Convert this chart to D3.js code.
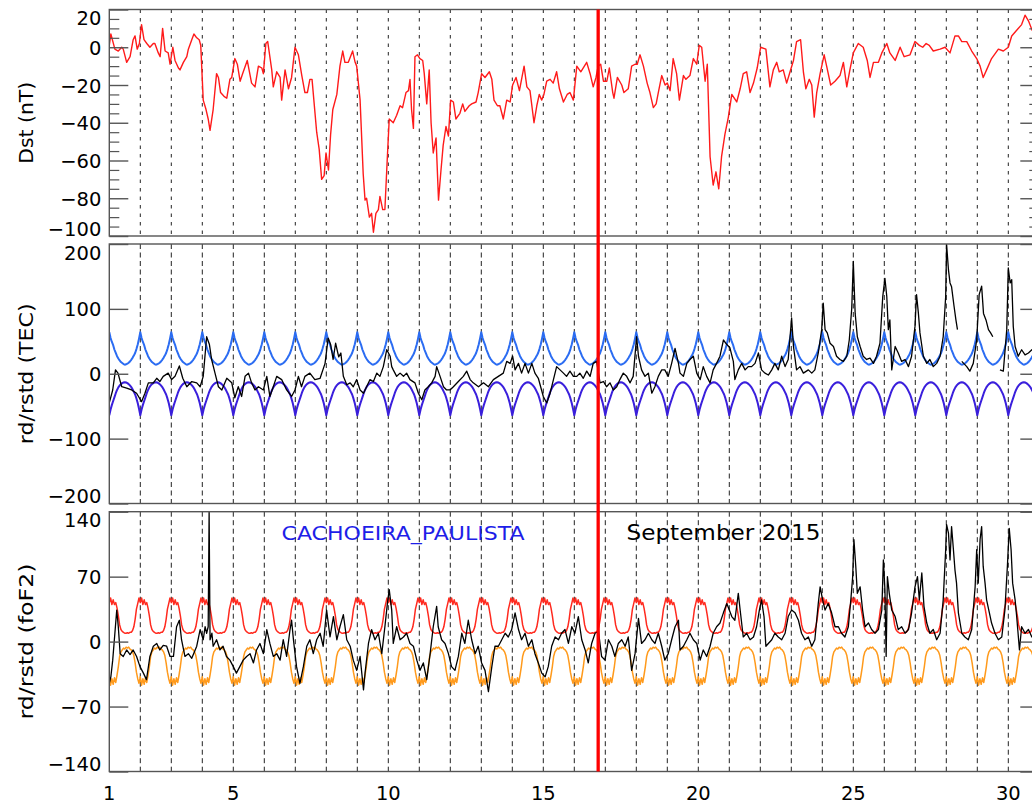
<!DOCTYPE html>
<html><head><meta charset="utf-8">
<script src="https://cdn.jsdelivr.net/npm/d3@7"></script>
<style>
html,body{margin:0;padding:0;background:#fff;overflow:hidden}
svg{display:block}
text{font-family:"DejaVu Sans","Liberation Sans",sans-serif;fill:#000}
</style></head><body>
<svg id="chart" width="1032" height="805"></svg>
<script>
// ---- axis labels and ticks ----
const dayLabels = [1, 5, 10, 15, 20, 25, 30];
const dayGrid = [2,3,4,5,6,7,8,9,10,11,12,13,14,15,16,17,18,19,20,21,22,23,24,25,26,27,28,29,30];
const dstTicks = [-100, -80, -60, -40, -20, 0, 20];
const tecTicks = [-200, -100, 0, 100, 200];
const fof2Ticks = [-140, -70, 0, 70, 140];
const stationName = "CACHOEIRA_PAULISTA";
const monthLabel = "September 2015";
const eventDay = 16.77;

// ---- Dst index (nT), [day of month, value] ----
const dstSeries = [
[1.00,1],[1.05,7],[1.18,-1],[1.29,-2],[1.40,0],[1.45,-1],[1.56,-8],[1.67,-5],[1.77,4],[1.83,6],[1.90,-1],[1.97,2],[2.04,12],[2.12,4],[2.21,2],[2.31,0],[2.42,2],[2.47,2],[2.58,-3],[2.64,-5],[2.72,10],[2.80,-2],[2.90,-3],[2.96,-9],[3.05,0],[3.12,-7],[3.23,-11],[3.28,-12],[3.39,-8],[3.50,-5],[3.55,-1],[3.66,4],[3.73,7],[3.82,5],[3.90,4],[3.95,1],[4.03,-28],[4.12,-33],[4.19,-38],[4.25,-44],[4.35,-33],[4.46,-14],[4.52,-16],[4.59,-24],[4.70,-26],[4.79,-27],[4.89,-17],[4.95,-16],[5.05,-6],[5.13,-9],[5.22,-18],[5.30,-14],[5.45,-7],[5.59,-19],[5.70,-21],[5.81,-10],[5.92,-11],[5.97,-14],[6.05,2],[6.11,3],[6.24,-12],[6.29,-21],[6.40,-13],[6.51,-16],[6.56,-28],[6.67,-12],[6.78,-22],[6.88,-16],[6.99,0],[7.10,-4],[7.21,-15],[7.31,-24],[7.39,-24],[7.47,-17],[7.54,-17],[7.69,-45],[7.77,-54],[7.85,-70],[7.93,-68],[7.99,-56],[8.07,-65],[8.14,-46],[8.21,-33],[8.34,-25],[8.44,-10],[8.53,-2],[8.60,-8],[8.71,-8],[8.85,-2],[8.93,-8],[8.98,-10],[9.09,-28],[9.19,-67],[9.25,-81],[9.30,-80],[9.39,-90],[9.46,-88],[9.52,-98],[9.60,-88],[9.68,-86],[9.73,-79],[9.82,-86],[9.89,-86],[9.97,-58],[10.03,-38],[10.16,-40],[10.27,-36],[10.38,-31],[10.46,-32],[10.57,-24],[10.65,-23],[10.70,-17],[10.75,-33],[10.81,-43],[10.86,-5],[10.94,-4],[11.02,-6],[11.11,-7],[11.16,-14],[11.24,-30],[11.32,-12],[11.38,-40],[11.45,-56],[11.54,-48],[11.62,-81],[11.70,-65],[11.77,-52],[11.86,-42],[11.94,-47],[12.01,-28],[12.10,-29],[12.18,-38],[12.31,-35],[12.40,-30],[12.47,-34],[12.61,-31],[12.69,-30],[12.83,-29],[12.90,-24],[13.01,-14],[13.12,-16],[13.26,-13],[13.34,-17],[13.41,-28],[13.52,-31],[13.60,-31],[13.71,-38],[13.82,-28],[13.93,-29],[14.01,-20],[14.12,-16],[14.23,-23],[14.38,-10],[14.47,-21],[14.57,-23],[14.70,-40],[14.79,-31],[14.87,-25],[14.95,-28],[15.02,-25],[15.11,-18],[15.22,-17],[15.32,-19],[15.43,-13],[15.52,-22],[15.65,-29],[15.77,-25],[15.86,-24],[15.97,-28],[16.08,-10],[16.21,-13],[16.40,-8],[16.51,-14],[16.61,-21],[16.70,-16],[16.77,-10],[16.85,-9],[16.94,-18],[17.05,-18],[17.13,-11],[17.24,-24],[17.28,-27],[17.39,-16],[17.53,-20],[17.60,-24],[17.74,-22],[17.85,-10],[17.96,-9],[18.03,-9],[18.12,-4],[18.23,-10],[18.35,-19],[18.44,-24],[18.55,-32],[18.64,-30],[18.71,-24],[18.82,-15],[18.93,-20],[19.00,-19],[19.09,-23],[19.19,-6],[19.30,-14],[19.39,-28],[19.52,-15],[19.60,-17],[19.73,-15],[19.84,-6],[19.95,-9],[20.03,1],[20.11,0],[20.22,-18],[20.29,-9],[20.38,-58],[20.48,-73],[20.57,-66],[20.66,-75],[20.75,-58],[20.86,-46],[20.97,-37],[21.08,-25],[21.24,-29],[21.35,-22],[21.45,-14],[21.56,-13],[21.67,-24],[21.78,-19],[21.90,-11],[22.01,0],[22.18,-1],[22.31,-21],[22.42,-12],[22.53,-8],[22.61,-13],[22.74,-12],[22.85,-19],[22.96,-13],[23.07,-7],[23.17,3],[23.30,4],[23.39,-13],[23.47,-22],[23.58,-17],[23.66,-20],[23.74,-37],[23.82,-24],[23.93,-14],[24.06,-4],[24.14,-10],[24.27,-20],[24.41,-18],[24.57,-15],[24.68,-8],[24.79,-21],[24.89,-12],[25.00,-3],[25.16,2],[25.32,0],[25.45,-7],[25.54,-16],[25.65,-8],[25.81,-8],[25.92,-3],[26.08,2],[26.18,-3],[26.35,-7],[26.51,0],[26.64,-5],[26.83,-4],[26.99,3],[27.13,1],[27.24,0],[27.35,2],[27.45,1],[27.58,-2],[27.80,-1],[27.96,0],[28.12,-3],[28.28,6],[28.39,6],[28.50,3],[28.66,3],[28.82,-2],[28.98,-6],[29.09,-10],[29.19,-16],[29.30,-12],[29.46,-6],[29.68,-1],[29.84,-2],[30.00,0],[30.11,6],[30.27,9],[30.43,12],[30.54,17],[30.65,14],[30.77,9],[30.90,6]
];

// ---- TEC relative deviation (%), [day, value]; null marks a data gap ----
const tecDeviation = [
[1.00,-45],[1.11,-25],[1.20,6],[1.28,1],[1.40,-20],[1.56,-22],[1.72,-25],[1.88,-30],[2.04,-43],[2.15,-30],[2.26,-14],[2.42,-14],[2.53,-7],[2.63,-12],[2.74,-4],[2.90,1],[3.01,-9],[3.12,-4],[3.26,12],[3.37,-7],[3.50,-20],[3.66,-12],[3.82,-14],[3.93,-20],[4.03,-4],[4.14,57],[4.23,45],[4.30,22],[4.41,1],[4.52,-20],[4.63,-25],[4.79,-7],[4.95,-14],[5.05,-37],[5.16,-20],[5.27,-35],[5.38,-4],[5.49,1],[5.59,-14],[5.70,-25],[5.81,-20],[5.97,-25],[6.08,-4],[6.18,-35],[6.29,-20],[6.40,-4],[6.56,-9],[6.72,-25],[6.88,-35],[6.99,-25],[7.10,-4],[7.20,-20],[7.31,-4],[7.47,1],[7.63,-9],[7.80,-7],[7.96,16],[8.06,55],[8.14,45],[8.22,22],[8.30,47],[8.40,26],[8.47,32],[8.55,-4],[8.66,-17],[8.77,-14],[8.87,-20],[8.98,-9],[9.09,-25],[9.20,-30],[9.30,-20],[9.41,-9],[9.52,-12],[9.63,1],[9.73,-4],[9.84,11],[9.95,37],[10.06,27],[10.11,11],[10.16,6],[10.27,-4],[10.38,1],[10.49,-4],[10.59,1],[10.70,-9],[10.86,-14],[10.97,-30],[11.08,-40],[11.18,-25],[11.29,-20],[11.40,-14],[11.51,-4],[11.56,11],[11.67,-4],[11.78,-20],[11.88,-25],[11.99,-25],[12.10,-20],[12.26,-12],[12.42,-4],[12.53,4],[12.64,-9],[12.74,-14],[12.91,-20],[13.07,-14],[13.23,-20],[13.39,-9],[13.55,-4],[13.71,1],[13.82,19],[13.93,16],[14.01,27],[14.09,6],[14.20,16],[14.30,1],[14.41,16],[14.52,1],[14.63,16],[14.73,1],[14.84,-7],[15.00,-35],[15.11,-45],[15.22,-30],[15.43,11],[15.54,6],[15.65,1],[15.75,-4],[15.86,4],[15.97,-4],[16.08,-4],[16.18,1],[16.29,-7],[16.40,4],[16.51,-4],[16.61,16],[16.72,19],[16.83,-14],[16.94,-12],[17.04,-20],[17.15,-14],[17.26,-25],[17.37,-20],[17.47,-9],[17.58,1],[17.69,-4],[17.80,-14],[17.90,-4],[18.01,57],[18.07,27],[18.17,6],[18.28,-4],[18.39,1],[18.50,-30],[18.60,-20],[18.71,-4],[18.82,6],[18.92,6],[19.03,-4],[19.14,16],[19.25,39],[19.36,16],[19.41,1],[19.52,-4],[19.63,16],[19.73,22],[19.84,27],[19.95,1],[20.06,-9],[20.16,11],[20.27,-4],[20.38,-14],[20.48,6],[20.59,16],[20.70,27],[20.81,52],[20.92,45],[21.02,40],[21.13,19],[21.18,-9],[21.29,6],[21.40,16],[21.51,6],[21.61,11],[21.72,11],[21.83,16],[21.94,32],[22.04,6],[22.15,1],[22.26,-2],[22.37,6],[22.47,16],[22.58,6],[22.69,27],[22.80,11],[22.90,22],[23.01,86],[23.07,42],[23.17,6],[23.28,11],[23.39,1],[23.55,6],[23.66,1],[23.76,6],[23.87,32],[23.98,68],[24.03,109],[24.09,68],[24.16,63],[24.25,47],[24.36,42],[24.46,27],[24.57,22],[24.68,19],[24.79,27],[24.87,52],[24.95,101],[25.00,173],[25.06,93],[25.13,57],[25.22,42],[25.32,27],[25.43,22],[25.54,24],[25.65,16],[25.75,27],[25.86,47],[25.95,119],[26.02,147],[26.08,119],[26.13,68],[26.18,83],[26.24,6],[26.35,42],[26.45,32],[26.56,19],[26.67,22],[26.78,11],[26.88,27],[26.99,73],[27.04,122],[27.10,93],[27.15,63],[27.26,27],[27.37,16],[27.47,22],[27.58,11],[27.69,16],[27.80,27],[27.90,57],[27.98,119],[28.01,199],[28.07,160],[28.12,140],[28.17,134],[28.25,104],[28.31,83],[28.36,68],null,[28.50,19],[28.66,11],[28.76,4],[28.87,16],[28.98,52],[29.06,122],[29.14,135],[29.20,93],[29.28,83],[29.36,68],[29.43,63],[29.50,57],null,[29.73,6],[29.84,4],[29.95,68],[30.00,163],[30.06,140],[30.11,145],[30.16,73],[30.22,42],[30.32,27],[30.43,37],[30.54,29],[30.65,32],[30.76,37],[30.90,30]
];

// ---- foF2 relative deviation (%), [day, value] ----
const fof2Deviation = [
[1.00,-45],[1.05,-38],[1.11,-20],[1.18,9],[1.24,34],[1.29,16],[1.35,-13],[1.45,-16],[1.56,-9],[1.67,-14],[1.77,-9],[1.88,-16],[1.99,-27],[2.10,-34],[2.20,-41],[2.31,-16],[2.42,-5],[2.53,-2],[2.63,-9],[2.74,-4],[2.85,-5],[2.96,-16],[3.07,-16],[3.17,16],[3.26,23],[3.33,2],[3.44,-16],[3.55,-13],[3.66,-18],[3.82,-5],[3.93,13],[4.03,2],[4.09,16],[4.14,9],[4.19,16],[4.22,140],[4.25,2],[4.31,9],[4.35,-5],[4.46,2],[4.57,-9],[4.67,-5],[4.78,-16],[4.89,-20],[5.00,-27],[5.10,-34],[5.21,-27],[5.32,-20],[5.43,-16],[5.54,-13],[5.65,-23],[5.75,-9],[5.86,-2],[5.97,-13],[6.08,13],[6.18,-2],[6.29,-16],[6.40,-13],[6.51,-20],[6.61,2],[6.72,-16],[6.83,13],[6.88,23],[6.94,2],[7.04,-27],[7.15,-45],[7.26,-27],[7.37,-5],[7.47,2],[7.58,-13],[7.69,2],[7.80,9],[7.90,-5],[8.01,34],[8.12,5],[8.23,27],[8.34,2],[8.44,16],[8.55,29],[8.66,2],[8.77,-5],[8.87,-20],[8.98,-31],[9.09,-16],[9.20,-52],[9.25,-34],[9.36,-2],[9.46,13],[9.57,2],[9.68,9],[9.79,-13],[9.89,16],[9.97,41],[10.03,56],[10.11,34],[10.16,-2],[10.27,16],[10.38,2],[10.49,5],[10.59,9],[10.70,-2],[10.81,-5],[10.92,-20],[11.02,-31],[11.13,-23],[11.24,-41],[11.35,-13],[11.45,16],[11.56,38],[11.61,16],[11.72,2],[11.83,-2],[11.94,-13],[12.04,-27],[12.15,-31],[12.26,-16],[12.37,9],[12.47,-2],[12.58,23],[12.69,2],[12.80,-13],[12.90,-5],[13.01,-23],[13.12,-31],[13.23,-54],[13.34,-27],[13.44,-5],[13.55,-5],[13.66,2],[13.77,9],[13.87,5],[13.98,13],[14.09,31],[14.20,13],[14.30,2],[14.41,9],[14.52,-5],[14.63,2],[14.73,-13],[14.84,-23],[14.95,-34],[15.06,-38],[15.16,-27],[15.27,-5],[15.38,5],[15.49,2],[15.59,9],[15.70,13],[15.81,-2],[15.92,16],[16.02,9],[16.13,27],[16.24,2],[16.35,-9],[16.45,-23],[16.56,-2],[16.67,9],[16.78,11],[16.88,-16],[16.99,-20],[17.10,2],[17.21,-5],[17.31,-16],[17.42,-2],[17.53,2],[17.64,-5],[17.74,5],[17.85,-31],[17.96,-13],[18.07,25],[18.17,-2],[18.28,2],[18.39,9],[18.50,2],[18.60,-2],[18.71,9],[18.82,-5],[18.92,-20],[19.03,-13],[19.14,2],[19.25,16],[19.36,23],[19.41,-9],[19.52,-5],[19.63,2],[19.73,9],[19.84,2],[19.95,-2],[20.06,-20],[20.16,-9],[20.27,-16],[20.38,-5],[20.48,9],[20.59,16],[20.70,20],[20.81,31],[20.92,41],[21.00,34],[21.08,27],[21.18,23],[21.29,52],[21.35,34],[21.45,5],[21.56,9],[21.67,2],[21.78,5],[21.88,16],[21.97,34],[22.04,45],[22.12,27],[22.18,-5],[22.26,-2],[22.37,2],[22.47,9],[22.58,5],[22.69,2],[22.80,9],[22.90,27],[23.01,34],[23.12,31],[23.23,23],[23.33,9],[23.44,2],[23.55,5],[23.66,-5],[23.76,2],[23.87,41],[23.93,59],[24.01,45],[24.09,34],[24.19,41],[24.30,31],[24.41,16],[24.52,16],[24.62,9],[24.73,5],[24.84,16],[24.92,45],[24.98,70],[25.02,110],[25.08,81],[25.13,52],[25.22,59],[25.30,34],[25.38,16],[25.49,20],[25.59,13],[25.70,9],[25.81,13],[25.92,34],[25.97,88],[26.02,56],[26.06,-16],[26.10,70],[26.16,52],[26.24,34],[26.35,27],[26.45,13],[26.56,16],[26.67,9],[26.78,13],[26.88,31],[26.99,59],[27.07,70],[27.13,45],[27.21,74],[27.28,38],[27.37,20],[27.47,9],[27.58,13],[27.69,2],[27.80,9],[27.90,45],[27.98,99],[28.01,126],[28.07,117],[28.12,88],[28.17,124],[28.23,99],[28.28,77],[28.33,63],[28.39,31],[28.50,9],[28.60,5],[28.71,2],[28.82,13],[28.93,59],[28.98,99],[29.03,63],[29.09,110],[29.14,124],[29.19,81],[29.25,63],[29.30,45],[29.39,31],[29.46,20],[29.57,9],[29.68,2],[29.79,5],[29.89,34],[29.97,81],[30.03,122],[30.09,99],[30.14,63],[30.22,45],[30.27,27],[30.36,-9],[30.43,16],[30.54,9],[30.65,13],[30.76,5],[30.90,10]
];

// ---- quiet-time bounds: hourly daily profile (hour 0 .. 23), repeated each day ----
const tecUpperHourly = [64,55,49,44,37,32,27,23.5,20.5,18,16.5,15,14,14.5,15.5,17,19,21.5,24.5,28,32,38,45,54];
const tecLowerHourly = [-64,-55,-48,-42,-36,-30,-25,-21,-18,-16,-14.5,-13.5,-13,-13.5,-14.5,-16,-18,-20.5,-24,-28,-32,-38,-45,-54];
const fof2UpperHourly = [42,47,40,45,40,42,36,28,18,13,11,10,9,9,9.5,9,10,10,12,16,24,35,41,47];
const fof2LowerHourly = [-38,-47,-40,-46,-39,-44,-36,-27,-16,-11,-9,-7,-8,-6,-7,-6,-8,-9,-11,-15,-23,-33,-40,-45];

function repeatDaily(profile) {
  const pts = [];
  for (let d = 1; d <= 30; d++) profile.forEach((v, h) => pts.push([d + h / 24, v]));
  pts.push([31, profile[0]]);
  return pts;
}

const svg = d3.select("#chart");
const x = d3.scaleLinear().domain([1, 31]).range([109.3, 1039.3]);
const xl = x(1), xr = x(31);

const panels = [
  { id: "dst", top: 9.5, bottom: 236, domain: [-100, 20], ticks: dstTicks, minor: d3.range(-100, 21, 5),
    title: "Dst (nT)", titleLen: 82, dash: "3.5,5",
    lines: [{ data: dstSeries, color: "#ff1a1a", width: 1.4 }] },
  { id: "tec", top: 244, bottom: 503.5, domain: [-200, 200], ticks: tecTicks, minor: [],
    title: "rd/rstd (TEC)", titleLen: 141, dash: "5,3.5",
    lines: [
      { data: repeatDaily(tecUpperHourly), color: "#2b6cf2", width: 2 },
      { data: repeatDaily(tecLowerHourly), color: "#3a1fdc", width: 2 },
      { data: tecDeviation, color: "#000", width: 1.3 } ] },
  { id: "fof2", top: 511.7, bottom: 771.5, domain: [-140, 140], ticks: fof2Ticks, minor: [],
    title: "rd/rstd (foF2)", titleLen: 156, dash: "5,3.5",
    lines: [
      { data: repeatDaily(fof2UpperHourly), color: "#ff2a1f", width: 1.5 },
      { data: repeatDaily(fof2LowerHourly), color: "#ff9a1c", width: 1.5 },
      { data: fof2Deviation, color: "#000", width: 1.3 } ] }
];

const defs = svg.append("defs");

panels.forEach(p => {
  const y = d3.scaleLinear().domain(p.domain).range([p.bottom, p.top]);
  const g = svg.append("g").attr("class", "panel-" + p.id);

  defs.append("clipPath").attr("id", "clip-" + p.id)
    .append("rect").attr("x", xl).attr("y", p.top).attr("width", xr - xl).attr("height", p.bottom - p.top);

  // day separators
  g.append("g").selectAll("line").data(dayGrid).join("line")
    .attr("x1", d => x(d)).attr("x2", d => x(d))
    .attr("y1", p.top).attr("y2", p.bottom)
    .attr("stroke", "#222").attr("stroke-width", 1).attr("stroke-dasharray", p.dash);

  // series
  const line = d3.line().defined(d => d != null).x(d => x(d[0])).y(d => y(d[1]));
  const plot = g.append("g").attr("clip-path", `url(#clip-${p.id})`);
  p.lines.forEach(s => {
    plot.append("path").datum(s.data).attr("d", line)
      .attr("fill", "none").attr("stroke", s.color).attr("stroke-width", s.width)
      .attr("stroke-linejoin", "round");
  });

  // frame
  g.append("rect").attr("x", xl).attr("y", p.top).attr("width", xr - xl).attr("height", p.bottom - p.top)
    .attr("fill", "none").attr("stroke", "#555").attr("stroke-width", 1.4);

  // inward ticks on both sides
  const left = g.append("g").attr("transform", `translate(${xl},0)`)
    .call(d3.axisLeft(y).tickValues(p.ticks).tickSizeInner(-19).tickSizeOuter(0).tickPadding(8));
  left.select(".domain").remove();
  left.selectAll("line").attr("stroke", "#555").attr("stroke-width", 1.4);
  left.selectAll("text").attr("font-size", 19.5).attr("font-family", "DejaVu Sans")
    .attr("dy", (d, i, n) => i === 0 ? "-0.05em" : (i === n.length - 1 ? "0.78em" : "0.36em"));

  const right = g.append("g").attr("transform", `translate(${xr},0)`)
    .call(d3.axisRight(y).tickValues(p.ticks).tickSizeInner(-19).tickSizeOuter(0).tickFormat(""));
  right.select(".domain").remove();
  right.selectAll("line").attr("stroke", "#555").attr("stroke-width", 1.4);

  if (p.minor.length) {
    const minorVals = p.minor.filter(v => !p.ticks.includes(v));
    [[d3.axisLeft, xl], [d3.axisRight, xr]].forEach(([ax, px]) => {
      const m = g.append("g").attr("transform", `translate(${px},0)`)
        .call(ax(y).tickValues(minorVals).tickSizeInner(-10).tickSizeOuter(0).tickFormat(""));
      m.select(".domain").remove();
      m.selectAll("line").attr("stroke", "#555").attr("stroke-width", 1.2);
    });
  }

  // axis title
  const cy = (p.top + p.bottom) / 2;
  g.append("text").attr("transform", `translate(32.5,${cy}) rotate(-90)`)
    .attr("text-anchor", "middle").attr("font-size", 19.5)
    .attr("textLength", p.titleLen).attr("lengthAdjust", "spacingAndGlyphs")
    .text(p.title);
});

// day-of-month labels
svg.append("g").selectAll("text").data(dayLabels).join("text")
  .attr("x", d => x(d)).attr("y", 800).attr("text-anchor", "middle")
  .attr("font-size", 19.5).text(d => d);

// annotations in the lower panel
svg.append("text").attr("x", 281.5).attr("y", 539.5).attr("font-size", 20)
  .attr("textLength", 243).attr("lengthAdjust", "spacingAndGlyphs")
  .style("fill", "#1e1ee8").text(stationName);
svg.append("text").attr("x", 626.5).attr("y", 540).attr("font-size", 20.5)
  .attr("textLength", 194).attr("lengthAdjust", "spacingAndGlyphs")
  .text(monthLabel);

// event marker across all panels
svg.append("line").attr("x1", x(eventDay)).attr("x2", x(eventDay))
  .attr("y1", panels[0].top).attr("y2", panels[2].bottom)
  .attr("stroke", "#ff0000").attr("stroke-width", 3.3);
</script></body></html>
